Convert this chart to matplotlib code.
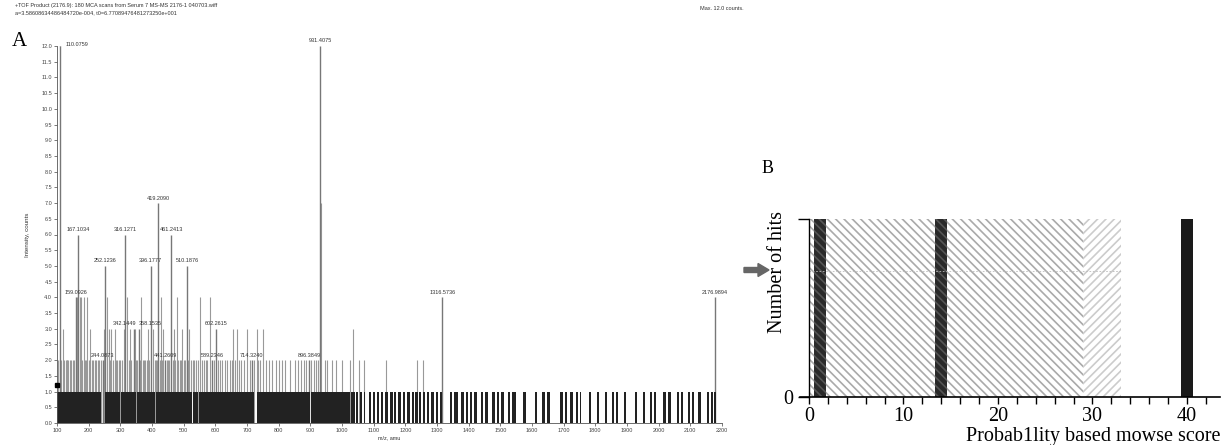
import matplotlib
matplotlib.use("Agg")
import matplotlib.pyplot as plt
import matplotlib.patches as mpatches

# ---- panel A: MS/MS spectrum ----
# labelled peaks (m/z, counts)
lab_mz = [110.0759, 159.0926, 167.1034, 244.0873, 252.1236, 316.1271, 342.1449, 358.1535,
          396.1777, 419.2090, 441.2609, 461.2413, 510.1876, 589.2346, 602.2615, 714.3240,
          896.3849, 931.4075, 1316.5736, 2176.9894]
lab_int = [12, 4, 6, 2, 5, 6, 3, 3, 5, 7, 2, 6, 5, 2, 3, 2, 2, 12, 4, 4]

# other peaks above the baseline (m/z, counts)
pk_mz = [104, 108, 114, 119, 123, 127, 130, 133, 136, 140, 145, 150, 155, 162, 172, 176, 180,
         184, 188, 192, 196, 200, 204, 209, 214, 219, 223, 228, 233, 238, 248, 258, 264, 268,
         272, 277, 282, 286, 290, 295, 300, 305, 310, 322, 326, 330, 335, 346, 350, 354, 362,
         366, 370, 374, 378, 383, 388, 392, 404, 408, 412, 416, 424, 428, 432, 436, 446, 450,
         455, 465, 468, 472, 478, 483, 488, 492, 496, 501, 505, 514, 518, 523, 528, 534, 540,
         546, 552, 558, 565, 570, 575, 583, 595, 608, 614, 622, 630, 638, 645, 652, 656, 662,
         669, 675, 680, 690, 700, 708, 722, 730, 736, 742, 750, 760, 770, 780, 790, 800, 810,
         820, 835, 850, 860, 870, 880, 887, 903, 910, 919, 924, 933, 945, 954, 967, 980, 1001,
         1025, 1036, 1053, 1069, 1139, 1237, 1255]
pk_int = [2, 2, 2, 3, 2, 2, 2, 2, 2, 2, 2, 2, 2, 4, 4, 4, 2,
          4, 2, 2, 4, 2, 3, 2, 2, 2, 2, 2, 2, 2, 3, 4, 3, 2,
          3, 2, 3, 2, 2, 2, 2, 2, 3, 4, 2, 3, 2, 3, 2, 2, 2,
          4, 2, 2, 2, 2, 3, 2, 3, 2, 2, 2, 2, 4, 2, 3, 2, 2,
          2, 2, 3, 2, 4, 2, 2, 2, 3, 2, 2, 2, 3, 2, 2, 2, 2,
          2, 4, 2, 2, 2, 2, 4, 2, 2, 2, 2, 2, 2, 2, 2, 3, 2,
          3, 2, 2, 2, 3, 2, 2, 3, 2, 2, 3, 2, 2, 2, 2, 2, 2,
          2, 2, 2, 2, 2, 2, 2, 2, 2, 2, 2, 7, 2, 2, 2, 2, 2,
          2, 3, 2, 2, 2, 2, 2]

# baseline (1 count) clusters, m/z start / end
base_lo = [100, 250, 302, 354, 414, 530, 549, 732, 903,
           1029, 1044, 1056, 1068, 1084, 1097, 1110, 1124, 1136, 1151, 1165, 1178, 1192, 1204,
           1220, 1232, 1244, 1255, 1268, 1282, 1296, 1308, 1340, 1355, 1377, 1392, 1404, 1418,
           1438, 1452, 1475, 1488, 1503, 1523, 1538, 1572, 1609, 1633, 1648, 1688, 1703, 1720,
           1738, 1750, 1780, 1804, 1829, 1853, 1864, 1889, 1924, 1951, 1972, 1985, 2014, 2030,
           2057, 2070, 2094, 2106, 2125, 2152, 2164, 2174]
base_hi = [238, 298, 348, 410, 526, 545, 722, 898, 1025,
           1040, 1052, 1063, 1072, 1092, 1104, 1118, 1130, 1145, 1160, 1171, 1186, 1198, 1214,
           1226, 1240, 1249, 1262, 1274, 1290, 1302, 1316, 1348, 1365, 1385, 1398, 1412, 1426,
           1446, 1462, 1482, 1496, 1511, 1530, 1548, 1580, 1616, 1640, 1658, 1697, 1712, 1730,
           1746, 1755, 1786, 1810, 1836, 1860, 1872, 1898, 1930, 1956, 1978, 1990, 2022, 2040,
           2064, 2078, 2100, 2112, 2133, 2160, 2170, 2180]

# ---- panel B: Mascot score histogram ----
shade_lo = [0, 29]
shade_hi = [29, 33]
hit_score = [1.2, 14, 40]
hit_count = [1, 1, 1]

plt.rcParams["hatch.linewidth"] = 1.2
fig = plt.figure(figsize=(12.23, 4.45), dpi=100)

sans = "Liberation Sans"
serif = "Liberation Serif"

# header text
fig.text(15 / 1223, 1 - 5 / 445,
         "+TOF Product (2176.9): 180 MCA scans from Serum 7 MS-MS 2176-1 040703.wiff",
         fontsize=4, family=sans, va="center", color="#333")
fig.text(15 / 1223, 1 - 13 / 445, "a=3.58608634486484720e-004, t0=6.77089476481273250e+001",
         fontsize=4, family=sans, va="center", color="#333")
fig.text(700 / 1223, 1 - 8 / 445, "Max. 12.0 counts.", fontsize=4, family=sans, va="center",
         color="#333")
fig.text(12 / 1223, 1 - 42 / 445, "A", fontsize=15, family=serif, va="center")
fig.text(762 / 1223, 1 - 168 / 445, "B", fontsize=13, family=serif, va="center")

axA = fig.add_axes([57 / 1223, 1 - 423 / 445, (722 - 57) / 1223, (423 - 46) / 445])
axA.vlines(pk_mz, 0, pk_int, color="#999999", linewidth=0.8, zorder=1)
axA.vlines(lab_mz, 0, lab_int, color="#777777", linewidth=1.0, zorder=1)
widths = [h - l for l, h in zip(base_lo, base_hi)]
axA.bar(base_lo, [1] * len(base_lo), width=widths, align="edge", color="#222222", linewidth=0,
        zorder=2)
for m, v in zip(lab_mz, lab_int):
    if m < 120:
        axA.plot([m, m + 15], [v, v + 0.05], color="#777", lw=0.6)
        axA.text(m + 16, v + 0.05, f"{m:.4f}", fontsize=4, family=sans, ha="left", va="center",
                 color="#333")
    elif m == 342.1449:
        axA.text(m - 30, v + 0.08, f"{m:.4f}", fontsize=4, family=sans, ha="center", va="bottom",
                 color="#333")
    elif m == 358.1535:
        axA.text(m + 35, v + 0.08, f"{m:.4f}", fontsize=4, family=sans, ha="center", va="bottom",
                 color="#333")
    else:
        axA.text(m, v + 0.08, f"{m:.4f}", fontsize=4, family=sans, ha="center", va="bottom",
                 color="#333")
axA.plot([100], [1.2], marker="s", ms=3, color="k", clip_on=False, zorder=3)

axA.set_xlim(100, 2200)
axA.set_ylim(0, 12)
axA.set_xticks(range(100, 2201, 100))
axA.set_yticks([i * 0.5 for i in range(25)])
axA.set_yticklabels([f"{i * 0.5:.1f}" for i in range(25)])
axA.tick_params(labelsize=4, length=2, width=0.5, pad=1.5, colors="#444")
for lab in axA.get_xticklabels() + axA.get_yticklabels():
    lab.set_family(sans)
for s in ["top", "right"]:
    axA.spines[s].set_visible(False)
for s in ["left", "bottom"]:
    axA.spines[s].set_linewidth(0.6)
    axA.spines[s].set_color("#555")
axA.set_xlabel("m/z, amu", fontsize=4, family=sans, labelpad=2, color="#333")
axA.set_ylabel("Intensity, counts", fontsize=4.5, family=sans, color="#333")
axA.yaxis.set_label_coords(-0.04, 0.5)

# arrow between panels
fig.add_artist(mpatches.FancyArrow(744 / 1223, 1 - 270 / 445, 14 / 1223, 0,
                                   width=5 / 445, head_width=13 / 445, head_length=11 / 1223,
                                   length_includes_head=False, color="#666666",
                                   transform=fig.transFigure))

axB = fig.add_axes([809 / 1223, 1 - 397 / 445, (1220 - 809) / 1223, (397 - 219) / 445])
axB.bar(shade_lo[0], 1, width=shade_hi[0] - shade_lo[0], align="edge", facecolor="white",
        edgecolor="#aaaaaa", hatch="\\\\\\\\", linewidth=0)
axB.bar(shade_lo[1], 1, width=shade_hi[1] - shade_lo[1], align="edge", facecolor="white",
        edgecolor="#cccccc", hatch="////", linewidth=0)
axB.hlines(0.71, 0, shade_hi[1], color="#bbbbbb", linewidth=0.6, linestyle=(0, (2, 2)))
for sc, c in zip(hit_score, hit_count):
    if sc < 35:
        axB.bar(sc, c, width=1.3, facecolor="#2a2a2a", edgecolor="#555555",
                hatch="\\\\\\\\", linewidth=0)
    else:
        axB.bar(sc, c, width=1.3, color="#1a1a1a", linewidth=0)

axB.set_xlim(0, 43.5)
axB.set_ylim(0, 1)
axB.set_xticks([0, 10, 20, 30, 40])
axB.set_xticks(range(0, 44, 2), minor=True)
axB.set_yticks([0, 1])
axB.set_yticklabels(["0", ""])
axB.tick_params(axis="x", which="both", length=5, width=1, labelsize=14.5, pad=2)
axB.tick_params(axis="y", length=8, width=1, labelsize=14.5, pad=3)
for lab in axB.get_xticklabels() + axB.get_yticklabels():
    lab.set_family(serif)
for s in ["top", "right"]:
    axB.spines[s].set_visible(False)
axB.spines["bottom"].set_bounds(-1, 43.5)
axB.spines["bottom"].set_linewidth(1.2)
axB.spines["left"].set_linewidth(1)
axB.set_ylabel("Number of hits", fontsize=14.5, family=serif)
axB.yaxis.set_label_coords(-0.054, 0.70)
axB.text(1.0, -0.17, "Probab1lity based mowse score", fontsize=14.5, family=serif,
         ha="right", va="top", transform=axB.transAxes)

fig.savefig("out.png", dpi=100)
